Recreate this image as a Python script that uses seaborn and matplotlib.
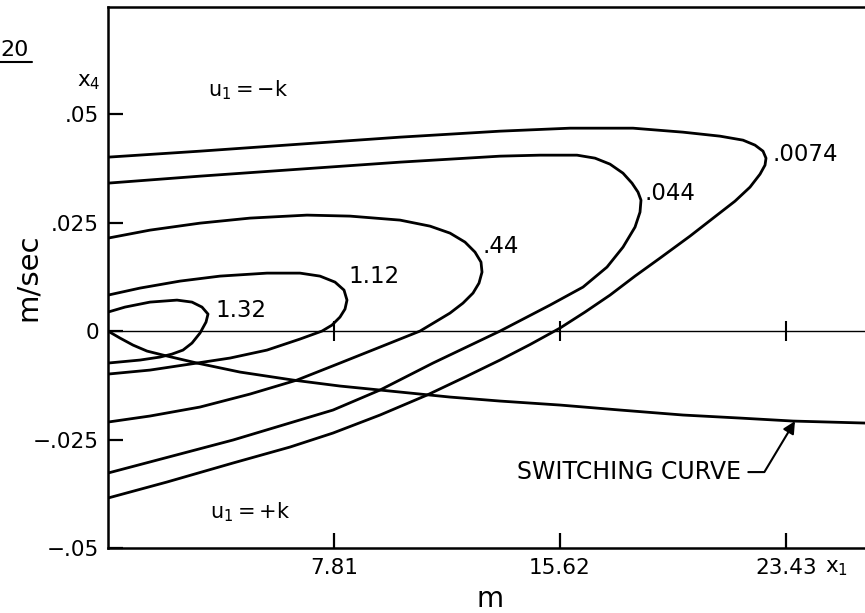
import matplotlib
matplotlib.use("Agg")
import numpy as np
import pandas as pd
import seaborn as sns
import matplotlib.pyplot as plt
from matplotlib.lines import Line2D

# ---------------- data ----------------
x_132 = [0.0, 0.587, 1.451, 2.385, 2.903, 3.248, 3.456, 3.387, 3.179, 2.903, 2.592, 2.212, 1.797, 1.106, 0.0]
y_132 = [0.00438, 0.00553, 0.00668, 0.00714, 0.00668, 0.00553, 0.00392, 0.00207, -0.00046, -0.00276,
         -0.00438, -0.00530, -0.00599, -0.00668, -0.00737]

x_112 = [0.0, 1.106, 2.488, 3.870, 5.495, 6.635, 7.326, 7.845, 8.156, 8.259, 8.190, 8.017, 7.741, 7.395,
         6.635, 5.495, 4.216, 3.076, 1.451, 0.0]
y_112 = [0.00829, 0.00991, 0.01152, 0.01267, 0.01336, 0.01336, 0.01267, 0.01129, 0.00945, 0.00714, 0.00507,
         0.00323, 0.00138, 0.0, -0.00184, -0.00438, -0.00622, -0.00737, -0.00899, -0.00991]

x_044a = [0.0, 1.451, 3.179, 4.907, 6.877, 8.363, 10.091, 11.128, 11.819, 12.337, 12.683, 12.890, 12.925,
          12.821, 12.614, 12.268, 11.819, 11.300, 10.782, 9.400, 8.017, 6.531, 4.907, 3.179, 1.451, 0.0]
y_044a = [0.02143, 0.02327, 0.02488, 0.02604, 0.02673, 0.02650, 0.02558, 0.02419, 0.02258, 0.02051, 0.01820,
          0.01590, 0.01359, 0.01106, 0.00876, 0.00645, 0.00415, 0.00207, 0.0, -0.00369, -0.00737, -0.01129,
          -0.01452, -0.01751, -0.01958, -0.02097]

x_0044 = [0.0, 3.179, 6.635, 10.091, 13.547, 14.929, 16.208, 16.830, 17.348, 17.797, 18.108, 18.316, 18.419,
          18.385, 18.212, 17.797, 17.244, 16.415, 15.275, 13.547, 11.231, 9.400, 7.776, 4.320, 0.0]
y_0044 = [0.03410, 0.03571, 0.03733, 0.03894, 0.04032, 0.04055, 0.04055, 0.03986, 0.03848, 0.03640, 0.03410,
          0.03203, 0.03018, 0.02742, 0.02396, 0.01935, 0.01475, 0.01014, 0.00599, 0.0, -0.00737,
          -0.01359, -0.01820, -0.02511, -0.03272]

x_0074 = [0.0, 3.179, 6.635, 10.091, 13.547, 15.966, 18.143, 19.871, 21.149, 21.944, 22.359, 22.636, 22.739,
          22.705, 22.532, 22.186, 21.668, 21.046, 20.113, 19.076, 18.212, 17.348, 16.484, 15.620, 14.583,
          13.547, 12.337, 11.024, 9.400, 7.776, 6.290, 4.320, 2.039, 0.0]
y_0074 = [0.04009, 0.04147, 0.04309, 0.04470, 0.04608, 0.04677, 0.04677, 0.04585, 0.04493, 0.04401, 0.04286,
          0.04147, 0.03986, 0.03825, 0.03617, 0.03318, 0.02995, 0.02673, 0.02189, 0.01682, 0.01267, 0.00829,
          0.00438, 0.00069, -0.00311, -0.00668, -0.01060, -0.01475, -0.01935, -0.02350, -0.02673, -0.03041,
          -0.03479, -0.03848]

x_switch = [0.0, 0.415, 0.864, 1.348, 1.901, 2.488, 3.076, 4.562, 6.393, 8.017, 9.400, 11.819, 13.547,
            15.620, 17.694, 19.871, 21.841, 23.672, 26.160]
y_switch = [0.0, -0.00161, -0.00323, -0.00461, -0.00553, -0.00645, -0.00737, -0.00945, -0.01129, -0.01267,
            -0.01359, -0.01521, -0.01613, -0.01705, -0.01820, -0.01935, -0.02005, -0.02074, -0.02120]

curve_labels = ["1.32", "1.12", ".44", ".044", ".0074"]

x_ticks = [7.81, 15.62, 23.43]
x_tick_labels = ["7.81", "15.62", "23.43"]
y_ticks = [-0.05, -0.025, 0.0, 0.025, 0.05]
y_tick_labels = ["\u2212.05", "\u2212.025", "0", ".025", ".05"]

# ---------------- build table ----------------
curve_xy = [(x_132, y_132), (x_112, y_112), (x_044a, y_044a), (x_0044, y_0044), (x_0074, y_0074)]
frames = []
for name, (xs, ys) in zip(curve_labels, curve_xy):
    frames.append(pd.DataFrame({"x": xs, "y": ys, "curve": name}))
frames.append(pd.DataFrame({"x": x_switch, "y": y_switch, "curve": "switching"}))
df = pd.concat(frames, ignore_index=True)

# ---------------- style ----------------
sns.set_theme(style="white")
plt.rcParams["font.family"] = ["DejaVu Sans"]
plt.rcParams["mathtext.default"] = "regular"

fig = plt.figure(figsize=(8.65, 6.13), dpi=100)
ax = fig.add_axes([108 / 865, 65 / 613, 757 / 865, 541 / 613])

sns.lineplot(data=df, x="x", y="y", units="curve", estimator=None, sort=False,
             color="black", linewidth=2.0, ax=ax)
for ln in ax.get_lines():
    ln.set_solid_joinstyle("round")
    ln.set_solid_capstyle("round")

# zero line with its small ticks
ax.axhline(0, color="black", lw=1.0, zorder=1)
ax.plot(x_ticks, np.zeros(len(x_ticks)), ls="none", marker="|", ms=15, mew=1.5, color="black")

ax.set_xlim(0, 26.16)
ax.set_ylim(-0.05, 0.0747)

ax.set_xticks(x_ticks)
ax.set_xticklabels(x_tick_labels, fontsize=15.5)
ax.set_yticks(y_ticks)
ax.set_yticklabels(y_tick_labels, fontsize=15.5)
ax.tick_params(axis="both", direction="in", length=11, width=1.6, color="black",
               labelcolor="black", bottom=True, left=True, top=False, right=False)
ax.tick_params(axis="y", pad=6.5)
ax.tick_params(axis="x", pad=7)

for side in ["left", "top", "bottom"]:
    ax.spines[side].set_visible(True)
    ax.spines[side].set_color("black")
    ax.spines[side].set_linewidth(1.8)
ax.spines["right"].set_visible(False)

ax.set_xlabel("m", fontsize=20, color="black")
ax.xaxis.set_label_coords(0.505, -0.068)
ax.set_ylabel("m/sec", fontsize=21, color="black")
ax.yaxis.set_label_coords(-0.1057, 0.5)
ax.yaxis.label.set_va("center")

# contour labels placed at each curve's turning point
label_offsets = [(7, 4), (1, 24), (0, 26), (4, 7), (6, 4)]
for name, (xs, ys), off in zip(curve_labels, curve_xy, label_offsets):
    i = int(np.argmax(xs))
    ax.annotate(name, xy=(xs[i], ys[i]), xytext=off, textcoords="offset pixels",
                ha="left", va="center", fontsize=16.5, color="black")

# region labels
ax.text(4.85, 0.0555, r"$u_1 = -k$", ha="center", va="center", fontsize=15, color="black")
ax.text(4.90, -0.0417, r"$u_1 = +k$", ha="center", va="center", fontsize=15, color="black")

# axis variable names
ax.text(-0.025, 0.861, r"$x_4$", transform=ax.transAxes, ha="center", va="center",
        fontsize=15.5, color="black", clip_on=False)
ax.text(0.963, -0.037, r"$x_1$", transform=ax.transAxes, ha="center", va="center",
        fontsize=15.5, color="black", clip_on=False)

# switching curve pointer
tx = 23.74
ty = float(np.interp(tx, x_switch, y_switch))
ax.annotate("SWITCHING CURVE", xy=(tx, ty), xytext=(21.87, -0.0325),
            ha="right", va="center", fontsize=17, color="black",
            arrowprops=dict(arrowstyle="-|>", color="black", lw=1.5, mutation_scale=18,
                            connectionstyle="angle,angleA=0,angleB=59,rad=0",
                            shrinkA=3, shrinkB=0))

# figure-number fragment in the corner
fig.text(0.0, 1 - 50 / 613, "20", fontsize=16, ha="left", va="center", color="black")
fig.add_artist(Line2D([0, 32 / 865], [1 - 62 / 613, 1 - 62 / 613], lw=1.5, color="black"))

fig.savefig("out.png", dpi=100)
